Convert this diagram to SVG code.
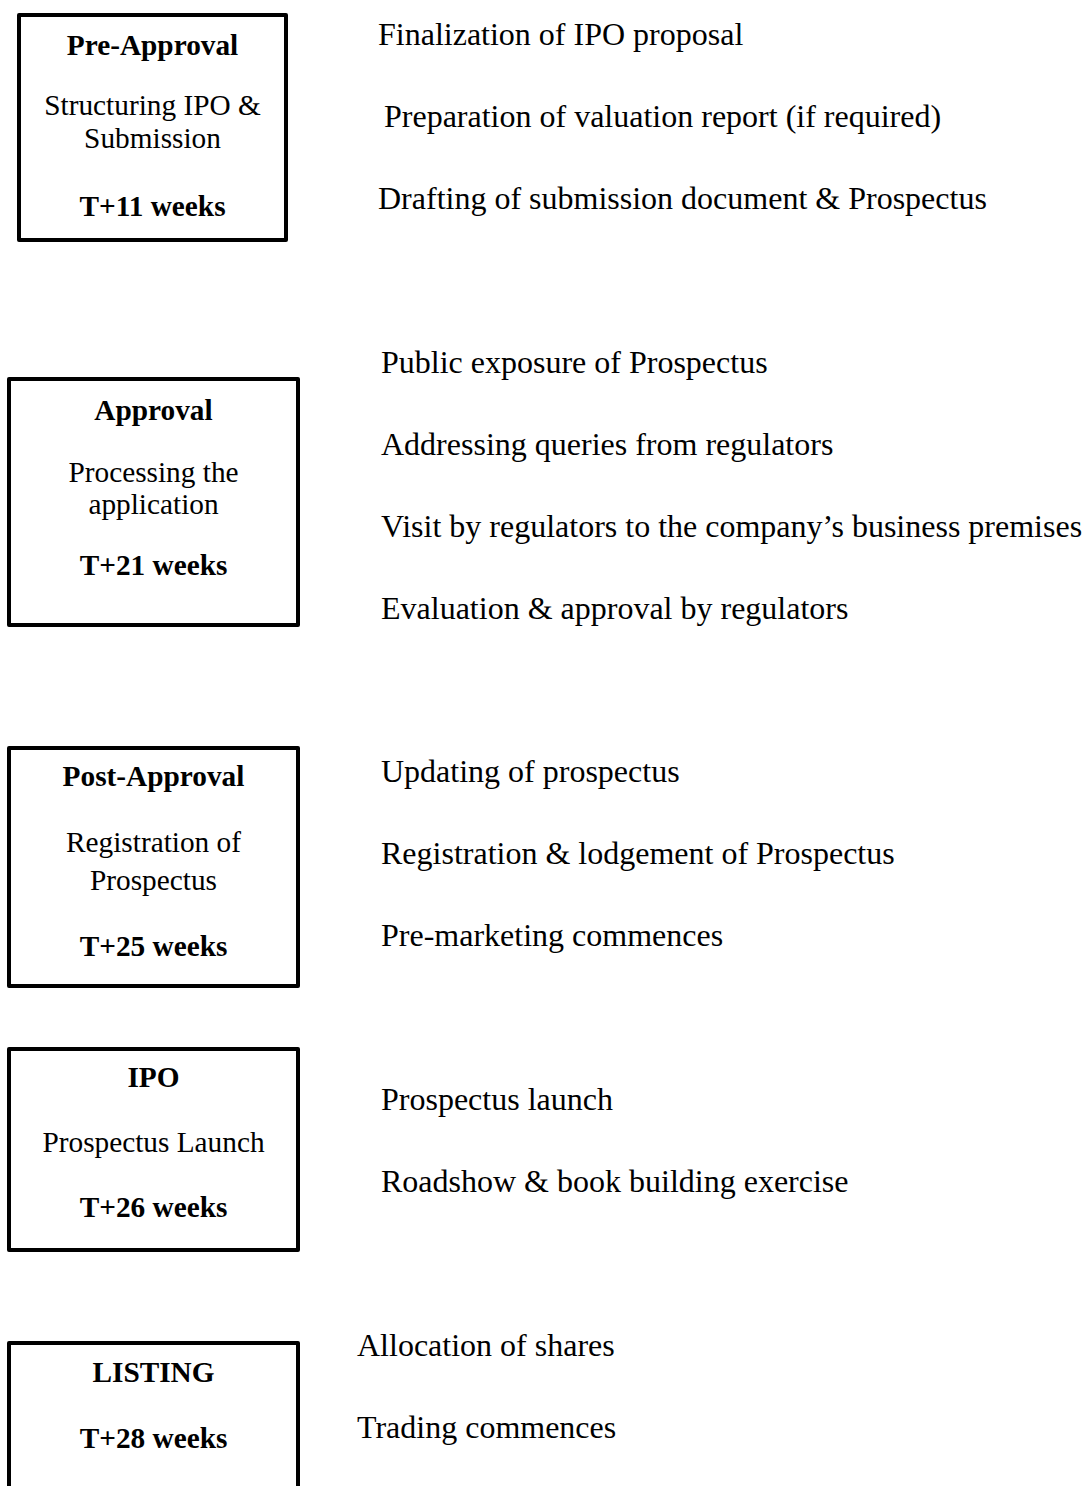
<svg xmlns="http://www.w3.org/2000/svg" width="1087" height="1486" viewBox="0 0 1087 1486">
<style>
.box{fill:#fff;stroke:#000;stroke-width:4;stroke-linejoin:round}
.bt{font-family:"Liberation Serif","Times New Roman",serif;font-size:29.3px;fill:#000;text-anchor:middle}
.b{font-weight:bold}
.rt{font-family:"Liberation Serif","Times New Roman",serif;font-size:32px;fill:#000}
</style>
<rect width="1087" height="1486" fill="#fff"/>
<g id="pre-approval">
<rect class="box" x="19" y="15" width="267" height="225"/>
<text class="bt b" x="152.5" y="55">Pre-Approval</text>
<text class="bt" x="152.5" y="115">Structuring IPO &amp;</text>
<text class="bt" x="152.5" y="148">Submission</text>
<text class="bt b" x="152.5" y="216">T+11 weeks</text>
</g>
<g id="pre-approval-steps">
<text class="rt" x="378" y="45">Finalization of IPO proposal</text>
<text class="rt" x="384" y="127">Preparation of valuation report (if required)</text>
<text class="rt" x="378" y="209">Drafting of submission document &amp; Prospectus</text>
</g>
<g id="approval">
<rect class="box" x="9" y="379" width="289" height="246"/>
<text class="bt b" x="153.5" y="420">Approval</text>
<text class="bt" x="153.5" y="482">Processing the</text>
<text class="bt" x="153.5" y="514">application</text>
<text class="bt b" x="153.5" y="575">T+21 weeks</text>
</g>
<g id="approval-steps">
<text class="rt" x="381" y="373">Public exposure of Prospectus</text>
<text class="rt" x="381" y="455">Addressing queries from regulators</text>
<text class="rt" x="381" y="537">Visit by regulators to the company’s business premises</text>
<text class="rt" x="381" y="619">Evaluation &amp; approval by regulators</text>
</g>
<g id="post-approval">
<rect class="box" x="9" y="748" width="289" height="238"/>
<text class="bt b" x="153.5" y="786">Post-Approval</text>
<text class="bt" x="153.5" y="852">Registration of</text>
<text class="bt" x="153.5" y="890">Prospectus</text>
<text class="bt b" x="153.5" y="956">T+25 weeks</text>
</g>
<g id="post-approval-steps">
<text class="rt" x="381" y="782">Updating of prospectus</text>
<text class="rt" x="381" y="864">Registration &amp; lodgement of Prospectus</text>
<text class="rt" x="381" y="946">Pre-marketing commences</text>
</g>
<g id="ipo">
<rect class="box" x="9" y="1049" width="289" height="201"/>
<text class="bt b" x="153.5" y="1087">IPO</text>
<text class="bt" x="153.5" y="1152">Prospectus Launch</text>
<text class="bt b" x="153.5" y="1217">T+26 weeks</text>
</g>
<g id="ipo-steps">
<text class="rt" x="381" y="1110">Prospectus launch</text>
<text class="rt" x="381" y="1192">Roadshow &amp; book building exercise</text>
</g>
<g id="listing">
<rect class="box" x="9" y="1343" width="289" height="200"/>
<text class="bt b" x="153.5" y="1382">LISTING</text>
<text class="bt b" x="153.5" y="1448">T+28 weeks</text>
</g>
<g id="listing-steps">
<text class="rt" x="357" y="1356">Allocation of shares</text>
<text class="rt" x="357" y="1438">Trading commences</text>
</g>
<g id="connectors"></g>
</svg>
